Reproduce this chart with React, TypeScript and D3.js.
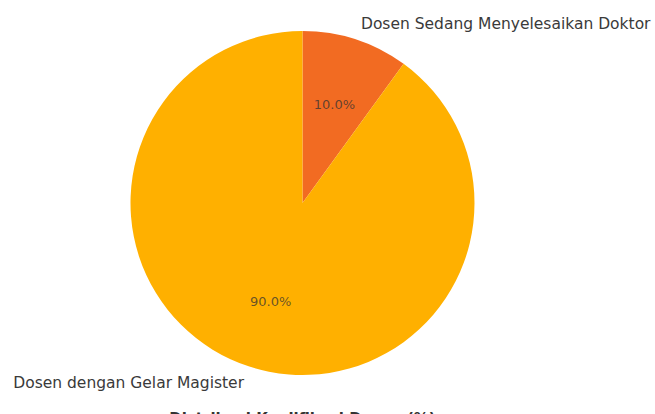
import React from "react";
import * as d3 from "d3";

const categories = ["Dosen Sedang Menyelesaikan Doktor", "Dosen dengan Gelar Magister"];
const values = [10, 90];
const colors = ["#F26B22", "#FFB000"];
const title = "Distribusi Kualifikasi Dosen (%)";

const W = 655;
const H = 414;
const cx = 302.5;
const cy = 203;
const R = 172;

export default function App() {
  const pie = d3.pie<number>().sort(null).startAngle(0).endAngle(2 * Math.PI);
  const arcs = pie(values);
  const arcGen = d3.arc<d3.PieArcDatum<number>>().innerRadius(0).outerRadius(R);
  const total = d3.sum(values);
  const pos = (a: d3.PieArcDatum<number>, k: number) => {
    const m = (a.startAngle + a.endAngle) / 2;
    return [Math.sin(m) * R * k, -Math.cos(m) * R * k];
  };
  const font = "'DejaVu Sans', sans-serif";
  return (
    <svg width={W} height={H} style={{ position: "absolute", left: 0, top: 0, background: "#fff" }}>
      <g transform={`translate(${cx},${cy})`}>
        {arcs.map((a, i) => (
          <path key={i} d={arcGen(a) || ""} fill={colors[i]} />
        ))}
        {arcs.map((a, i) => {
          const [x, y] = pos(a, 1.1);
          return (
            <text key={"l" + i} x={x} y={y} dy="0.35em" textAnchor={x > 0 ? "start" : "end"}
              fontFamily={font} fontSize={15.5} fill="#3a3a3a">
              {categories[i]}
            </text>
          );
        })}
        {arcs.map((a, i) => {
          const [x, y] = pos(a, 0.6);
          return (
            <text key={"p" + i} x={x} y={y} dy="0.35em" textAnchor="middle"
              fontFamily={font} fontSize={13} fill="#333" fillOpacity={0.75}>
              {((values[i] / total) * 100).toFixed(1) + "%"}
            </text>
          );
        })}
      </g>
      <text x={cx} y={424} textAnchor="middle" fontFamily={font} fontSize={15} fontWeight="bold" fill="#333">
        {title}
      </text>
    </svg>
  );
}
